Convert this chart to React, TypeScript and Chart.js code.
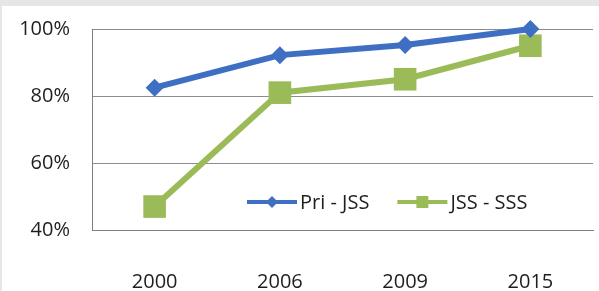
import React, { useEffect, useRef } from "react";
import { Chart, registerables } from "chart.js";

Chart.register(...registerables);

const categories = ["2000", "2006", "2009", "2015"];
const priJss = [82.5, 92.2, 95.2, 100];
const jssSss = [47, 81, 85, 95];
const seriesNames = ["Pri - JSS", "JSS - SSS"];
const yMin = 40;
const yMax = 100;
const yStep = 20;

const BLUE = "#3f6fc2";
const GREEN = "#9bbb59";
const FONT = "'Open Sans', 'DejaVu Sans', sans-serif";

function drawMarker(ctx: CanvasRenderingContext2D, style: string, x: number, y: number, r: number, color: string) {
  ctx.fillStyle = color;
  ctx.beginPath();
  if (style === "rectRot") {
    ctx.moveTo(x, y - r);
    ctx.lineTo(x + r, y);
    ctx.lineTo(x, y + r);
    ctx.lineTo(x - r, y);
    ctx.closePath();
  } else {
    ctx.rect(x - r, y - r, 2 * r, 2 * r);
  }
  ctx.fill();
}

const bgPlugin = {
  id: "bg",
  beforeDraw(chart: any) {
    const { ctx, width, height } = chart;
    ctx.save();
    ctx.fillStyle = "#ffffff";
    ctx.fillRect(0, 0, width, height);
    ctx.fillStyle = "#e4e6e8";
    ctx.fillRect(0, 0, width, 6);
    ctx.fillRect(0, 0, 2, height);
    ctx.restore();
  },
};

const legendPlugin = {
  id: "insideLegend",
  afterDraw(chart: any) {
    const { ctx, chartArea } = chart;
    const y = chartArea.bottom - 28;
    let x = chartArea.left + 155;
    ctx.save();
    ctx.font = `20px ${FONT}`;
    ctx.textBaseline = "middle";
    ctx.textAlign = "left";
    chart.data.datasets.forEach((ds: any) => {
      ctx.strokeStyle = ds.borderColor;
      ctx.lineWidth = 4;
      ctx.beginPath();
      ctx.moveTo(x, y);
      ctx.lineTo(x + 50, y);
      ctx.stroke();
      drawMarker(ctx, ds.pointStyle, x + 25, y, 6, ds.backgroundColor);
      ctx.fillStyle = "#1e1e1e";
      ctx.fillText(ds.label, x + 53, y + 1);
      x += 53 + ctx.measureText(ds.label).width + 28;
    });
    ctx.restore();
  },
};

function zeroPadding(scale: any) {
  scale.paddingTop = 0;
  scale.paddingBottom = 0;
  scale.paddingLeft = 0;
  scale.paddingRight = 0;
}

export default function App() {
  const ref = useRef<HTMLCanvasElement>(null);
  useEffect(() => {
    if (!ref.current) return;
    Chart.defaults.font.family = FONT;
    Chart.defaults.font.size = 20;
    Chart.defaults.color = "#1e1e1e";
    const chart = new Chart(ref.current, {
      type: "line",
      data: {
        labels: categories,
        datasets: [
          {
            label: seriesNames[0],
            data: priJss,
            borderColor: BLUE,
            backgroundColor: BLUE,
            borderWidth: 6,
            pointStyle: "rectRot",
            pointRadius: 9,
            pointBorderWidth: 0,
            tension: 0,
            clip: false as any,
          },
          {
            label: seriesNames[1],
            data: jssSss,
            borderColor: GREEN,
            backgroundColor: GREEN,
            borderWidth: 6,
            pointStyle: "rect",
            pointRadius: 16,
            pointBorderWidth: 0,
            tension: 0,
            clip: false as any,
          },
        ],
      },
      options: {
        animation: false,
        responsive: false,
        layout: { autoPadding: false, padding: { left: 8, top: 29, right: 6, bottom: 0 } },
        plugins: { legend: { display: false }, tooltip: { enabled: false } },
        scales: {
          x: {
            offset: true,
            grid: { display: false, drawTicks: false },
            border: { display: true, color: "#7f7f7f", width: 1 },
            ticks: { padding: 40, font: { size: 20 }, color: "#1e1e1e" },
            afterFit(scale: any) {
              scale.height = 61;
              zeroPadding(scale);
            },
          },
          y: {
            min: yMin,
            max: yMax,
            grid: { color: "#8c8c8c", lineWidth: 1, drawTicks: false },
            border: { display: true, color: "#7f7f7f", width: 1 },
            ticks: {
              stepSize: yStep,
              padding: 22,
              font: { size: 20 },
              color: "#1e1e1e",
              callback: (v: any) => v + "%",
            },
            afterFit(scale: any) {
              scale.width = 84;
              zeroPadding(scale);
            },
          },
        },
      },
      plugins: [bgPlugin, legendPlugin],
    });
    return () => chart.destroy();
  }, []);
  return (
    <canvas
      ref={ref}
      width={599}
      height={291}
      style={{ position: "fixed", left: 0, top: 0, width: 599, height: 291, display: "block" }}
    />
  );
}
